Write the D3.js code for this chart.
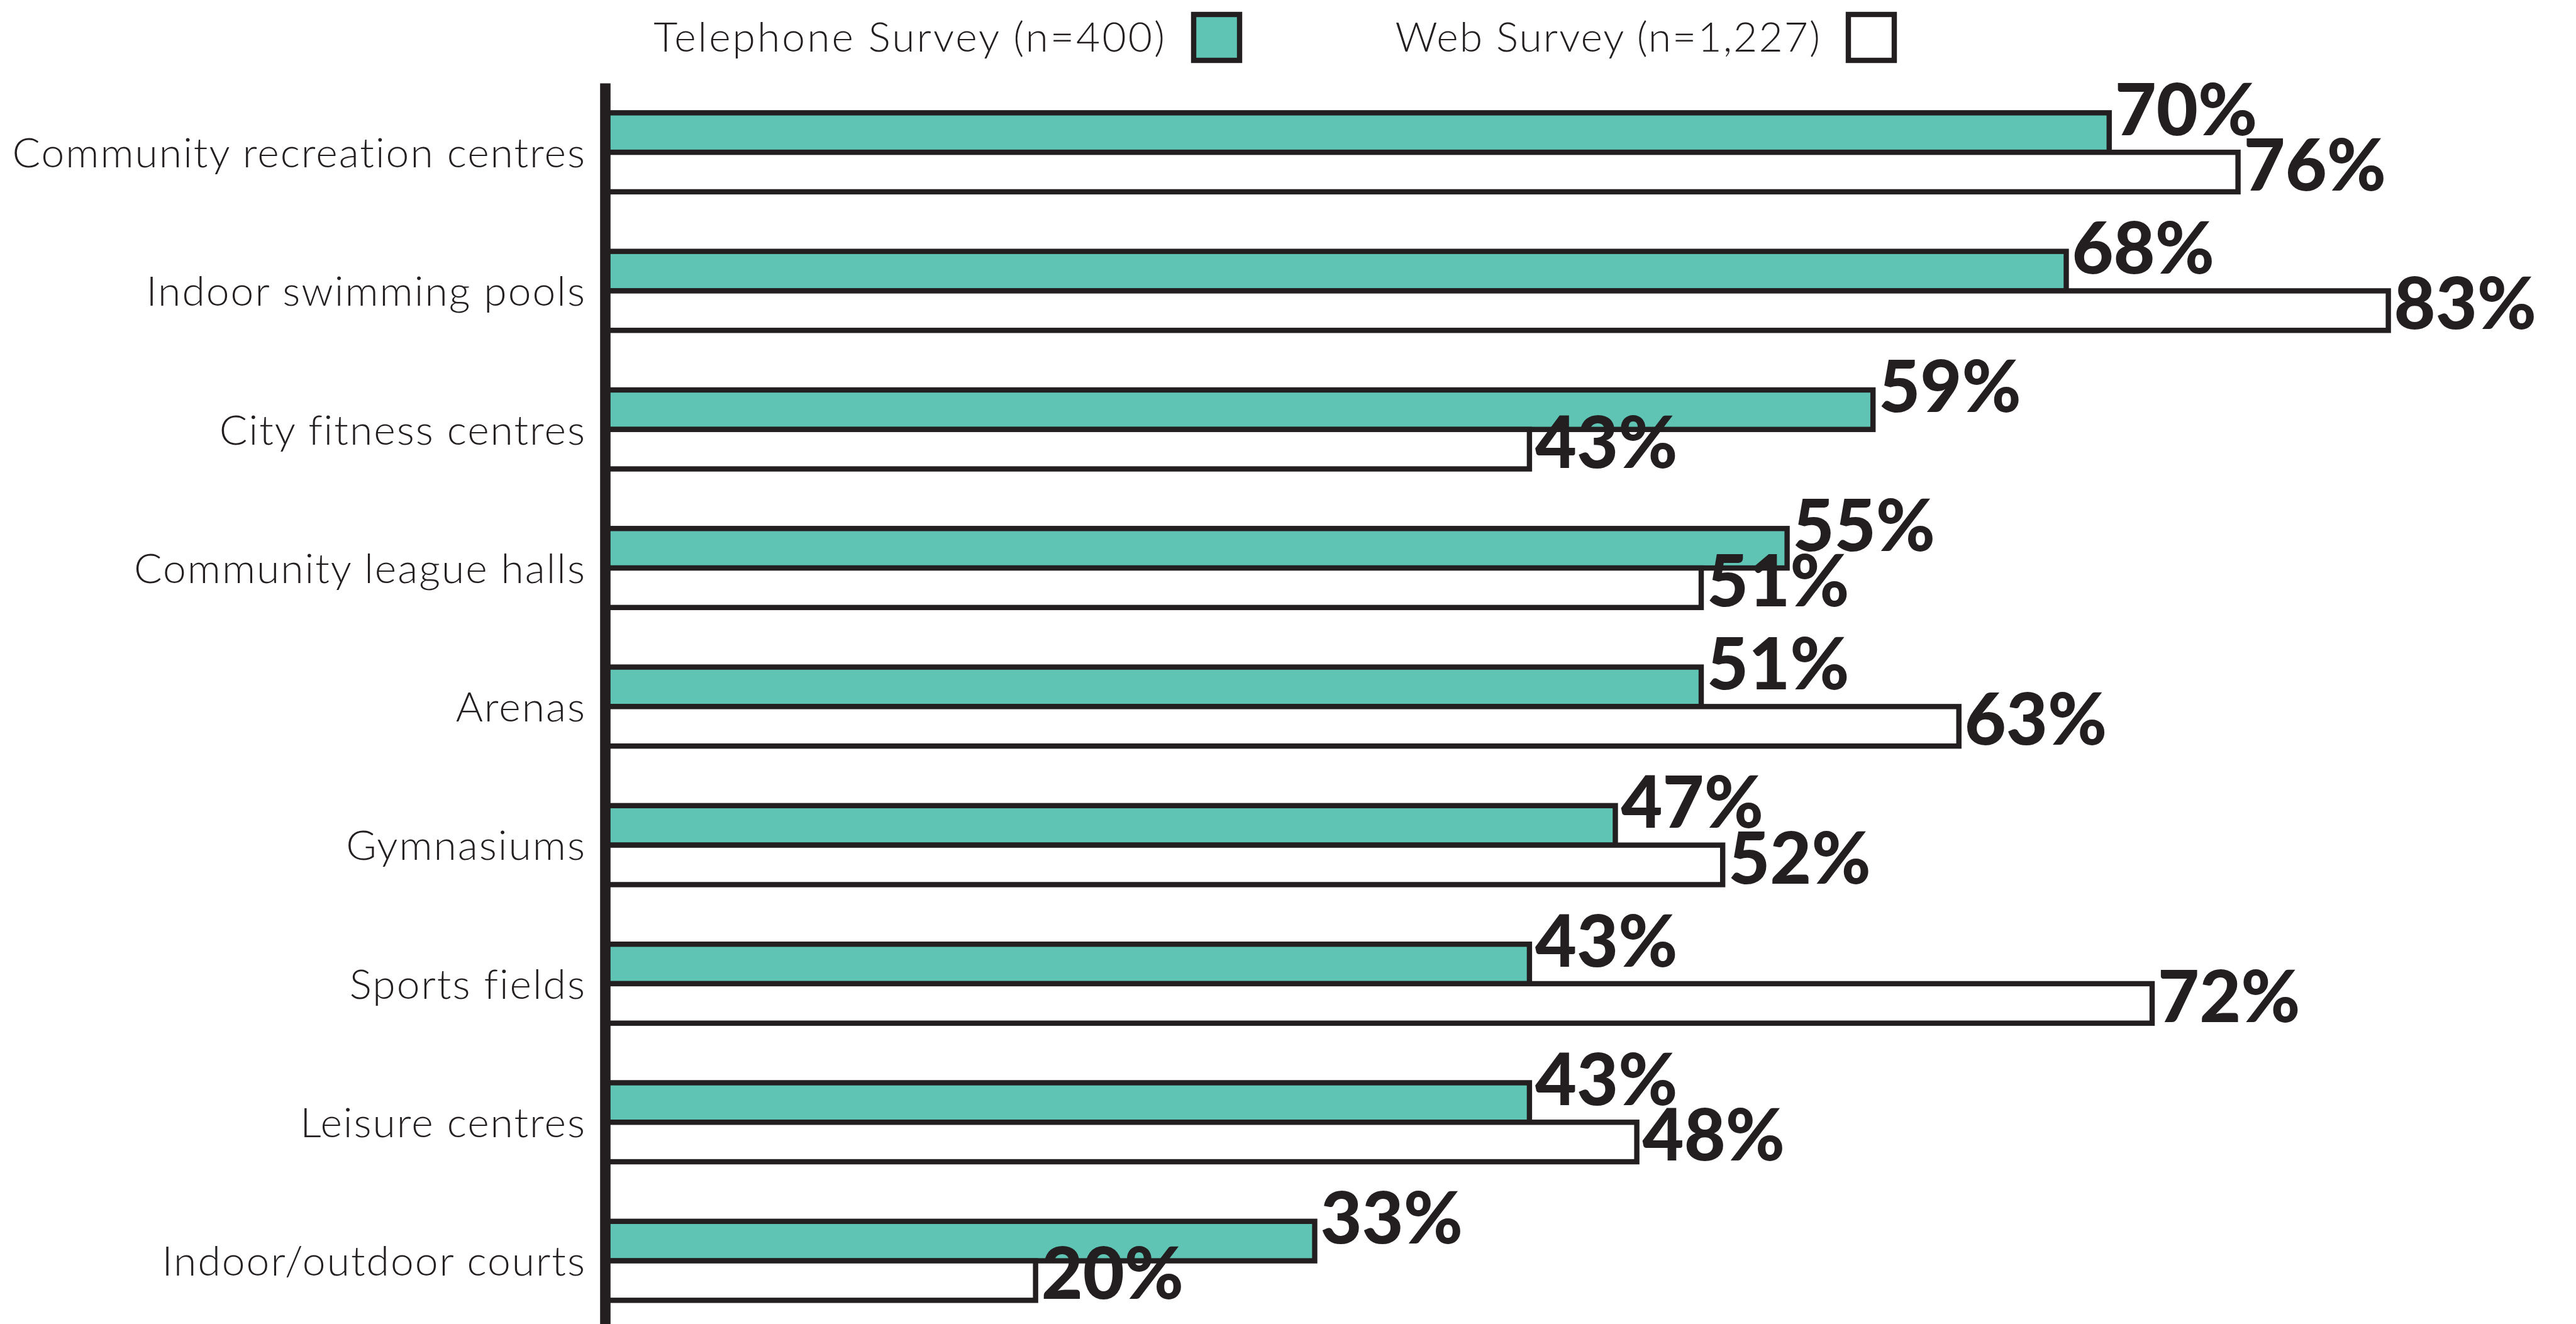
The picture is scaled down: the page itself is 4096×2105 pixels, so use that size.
<!DOCTYPE html>
<html>
<head>
<meta charset="utf-8">
<script src="https://cdn.jsdelivr.net/npm/d3@7"></script>
<style>
  body { margin: 0; background: #fff; }
  svg { display: block; }
</style>
</head>
<body>
<div id="chart"></div>
<script>
// data
var categories = ["Community recreation centres", "Indoor swimming pools", "City fitness centres",
    "Community league halls", "Arenas", "Gymnasiums", "Sports fields", "Leisure centres",
    "Indoor/outdoor courts"];
var telephone = [70, 68, 59, 55, 51, 47, 43, 43, 33];
var web = [76, 83, 43, 51, 63, 52, 72, 48, 20];
var seriesNames = ["Telephone Survey (n=400)", "Web Survey (n=1,227)"];
var seriesKeys = ["tel", "web"];

var teal = "#5fc4b4", ink = "#231f20";

var width = 4096, height = 2105;

var svg = d3.select("#chart").append("svg")
    .attr("width", width)
    .attr("height", height)
    .style("background", "#fff");

var rows = categories.map(function(c, i) {
    return { name: c, tel: telephone[i], web: web[i] };
});

// scales
var x = d3.scaleLinear().domain([0, 100]).range([963.8, 4378]);

var y = d3.scaleBand()
    .domain(categories)
    .range([132, 2114.7])
    .paddingInner(0.43)
    .paddingOuter(0.215);

var sub = d3.scaleBand().domain(seriesKeys).range([0, y.bandwidth()]);

// bars
var groups = svg.selectAll(".row")
    .data(rows)
    .enter().append("g")
    .attr("class", "row")
    .attr("transform", function(d) { return "translate(0," + y(d.name) + ")"; });

groups.selectAll("rect")
    .data(function(d) { return seriesKeys.map(function(k) { return { key: k, value: d[k] }; }); })
    .enter().append("rect")
    .attr("x", x(0))
    .attr("y", function(d) { return sub(d.key); })
    .attr("width", function(d) { return x(d.value) - x(0); })
    .attr("height", sub.bandwidth())
    .style("fill", function(d) { return d.key == "tel" ? teal : "#fff"; })
    .style("stroke", ink)
    .style("stroke-width", 8.4);

// value labels
groups.selectAll(".val")
    .data(function(d) { return seriesKeys.map(function(k) { return { key: k, value: d[k] }; }); })
    .enter().append("text")
    .attr("class", "val")
    .attr("x", function(d) { return x(d.value) + 9; })
    .attr("y", function(d) {
        if (d.key == "tel") return sub("tel") + 35.5;
        return sub("web") + sub.bandwidth() / 2 + 29.5;
    })
    .text(function(d) { return d.value + "%"; })
    .style("font-family", "Lato, 'Open Sans', sans-serif")
    .style("font-weight", 900)
    .style("font-size", "114px")
    .style("fill", ink);

// axis with category labels
var axis = svg.append("g")
    .attr("class", "y axis")
    .attr("transform", "translate(962,0)")
    .call(d3.axisLeft(y).tickSize(0).tickPadding(30));

axis.select(".domain")
    .style("stroke", ink)
    .style("stroke-width", 16.6);

axis.selectAll(".tick text")
    .attr("dy", "0.36em")
    .style("font-family", "Lato, 'Open Sans', sans-serif")
    .style("font-weight", 300)
    .style("font-size", "66px")
    .style("letter-spacing", "2px")
    .style("fill", ink);

// legend
var legendX = [1855, 2896];
var legendSpacing = ["3px", "2px"];
var legend = svg.selectAll(".legend")
    .data(seriesKeys)
    .enter().append("g")
    .attr("class", "legend");

legend.append("text")
    .attr("x", function(d, i) { return legendX[i]; })
    .attr("y", 81.6)
    .attr("text-anchor", "end")
    .text(function(d, i) { return seriesNames[i]; })
    .style("font-family", "Lato, 'Open Sans', sans-serif")
    .style("font-weight", 300)
    .style("font-size", "66px")
    .style("letter-spacing", function(d, i) { return legendSpacing[i]; })
    .style("fill", ink);

legend.append("rect")
    .attr("x", function(d, i) { return legendX[i] + 43; })
    .attr("y", 23)
    .attr("width", 73)
    .attr("height", 73)
    .style("fill", function(d) { return d == "tel" ? teal : "#fff"; })
    .style("stroke", ink)
    .style("stroke-width", 8.4);
</script>
</body>
</html>
